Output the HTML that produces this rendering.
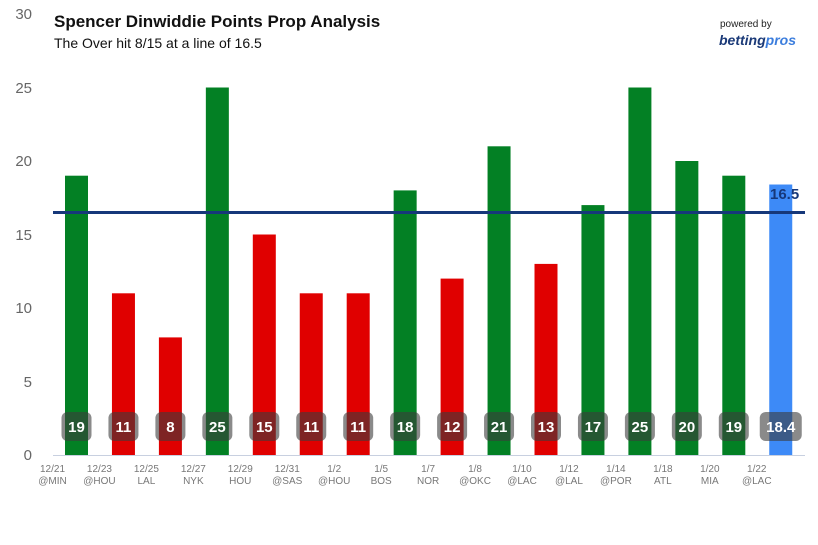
<!DOCTYPE html>
<html><head><meta charset="utf-8"><style>
body{margin:0;background:#fff;}
svg{display:block;font-family:"Liberation Sans",sans-serif;}
</style></head><body>
<svg width="818" height="545" viewBox="0 0 818 545" xmlns="http://www.w3.org/2000/svg">
<rect width="818" height="545" fill="#fff"/>
<g font-size="15" fill="#666" text-anchor="end">
<text x="32" y="460">0</text><text x="32" y="387">5</text><text x="32" y="313">10</text>
<text x="32" y="240">15</text><text x="32" y="166">20</text><text x="32" y="93">25</text><text x="32" y="19">30</text>
</g>
<text x="54" y="27" font-size="17" font-weight="bold" fill="#111">Spencer Dinwiddie Points Prop Analysis</text>
<text x="54" y="48" font-size="14" fill="#111">The Over hit 8/15 at a line of 16.5</text>
<text x="720" y="27" font-size="10" fill="#222">powered by</text>
<text x="719" y="45" font-size="14" font-weight="bold" font-style="italic" fill="#1b3a78">betting<tspan fill="#3b7ddd">pros</tspan></text>
<line x1="53" y1="455.5" x2="805" y2="455.5" stroke="#c8d0e0" stroke-width="1"/>
<g id="bars"></g>
<line x1="53" y1="212.5" x2="805" y2="212.5" stroke="#16387a" stroke-width="3"/>
<text x="770" y="199" font-size="15" font-weight="bold" fill="#16387a">16.5</text>
</svg>
<script>
var d=[["12/21","@MIN",19],["12/23","@HOU",11],["12/25","LAL",8],["12/27","NYK",25],["12/29","HOU",15],["12/31","@SAS",11],["1/2","@HOU",11],["1/5","BOS",18],["1/7","NOR",12],["1/8","@OKC",21],["1/10","@LAC",13],["1/12","@LAL",17],["1/14","@POR",25],["1/18","ATL",20],["1/20","MIA",19],["1/22","@LAC",18.4]];
var g=document.getElementById('bars'),s='';
d.forEach(function(e,i){
 var c=76.5+46.95*i,v=e[2],h=v*14.7,col=i==15?'#3d8af7':(v>16.5?'#038024':'#e00000');
 s+='<rect x="'+(c-11.5)+'" y="'+(455-h)+'" width="23" height="'+h+'" fill="'+col+'"/>';
 var w=i==15?42:30;
 s+='<rect x="'+(c-w/2)+'" y="412" width="'+w+'" height="29" rx="6" fill="rgba(60,60,60,0.6)"/>';
 s+='<text x="'+c+'" y="432" font-size="15" font-weight="bold" fill="#fff" text-anchor="middle">'+(i==15?'18.4':v)+'</text>';
 s+='<text x="'+(c-24)+'" y="472" font-size="10" fill="#777" text-anchor="middle">'+e[0]+'</text>';
 s+='<text x="'+(c-24)+'" y="484" font-size="10" fill="#777" text-anchor="middle">'+e[1]+'</text>';
});
g.innerHTML=s;
</script>
</body></html>
